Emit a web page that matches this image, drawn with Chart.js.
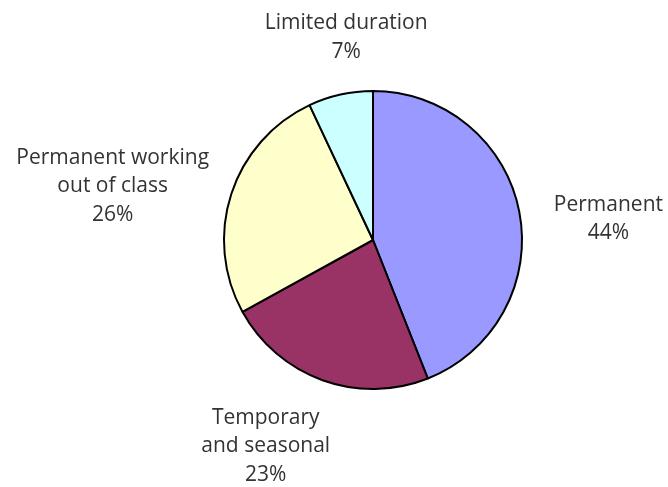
<!DOCTYPE html>
<html>
<head>
<meta charset="utf-8">
<script src="https://cdn.jsdelivr.net/npm/chart.js@4"></script>
<style>
html,body{margin:0;padding:0;background:#fff;}
#wrap{width:668px;height:487px;position:relative;}
</style>
</head>
<body>
<div id="wrap"><canvas id="c" width="668" height="487"></canvas></div>
<script>
const categories = ["Permanent", "Temporary and seasonal", "Permanent working out of class", "Limited duration"];
const values = [44, 23, 26, 7];
const labelLines = [["Permanent", "44%"], ["Temporary", "and seasonal", "23%"], ["Permanent working", "out of class", "26%"], ["Limited duration", "7%"]];
const colors = ["#9999FF", "#993366", "#FFFFCC", "#CCFFFF"];

// label offsets relative to pie centre (in units of radius)
const labelPos = [[1.58, -0.14], [-0.72, 1.385], [-1.747, -0.36], [-0.18, -1.36]];

const labelPlugin = {
  id: 'outerLabels',
  afterDraw(chart) {
    const ctx = chart.ctx;
    const arc = chart.getDatasetMeta(0).data[0];
    const cx = arc.x, cy = arc.y, r = arc.outerRadius;
    ctx.save();
    ctx.font = '21px "Open Sans"';
    ctx.fillStyle = '#333333';
    ctx.textAlign = 'center';
    ctx.textBaseline = 'middle';
    const lh = 28.5;
    labelLines.forEach((lines, i) => {
      const [fx, fy] = labelPos[i];
      const x = cx + fx * r, y = cy + fy * r;
      const y0 = y - (lines.length - 1) * lh / 2;
      lines.forEach((t, j) => ctx.fillText(t, x, y0 + j * lh));
    });
    ctx.restore();
  }
};

new Chart(document.getElementById('c'), {
  type: 'pie',
  data: {
    labels: categories,
    datasets: [{
      data: values,
      backgroundColor: colors,
      borderColor: '#000000',
      borderWidth: 2
    }]
  },
  options: {
    responsive: false,
    animation: false,
    layout: { padding: { left: 223, right: 145, top: 90, bottom: 97 } },
    plugins: { legend: { display: false }, tooltip: { enabled: false } }
  },
  plugins: [labelPlugin]
});
</script>
</body>
</html>
